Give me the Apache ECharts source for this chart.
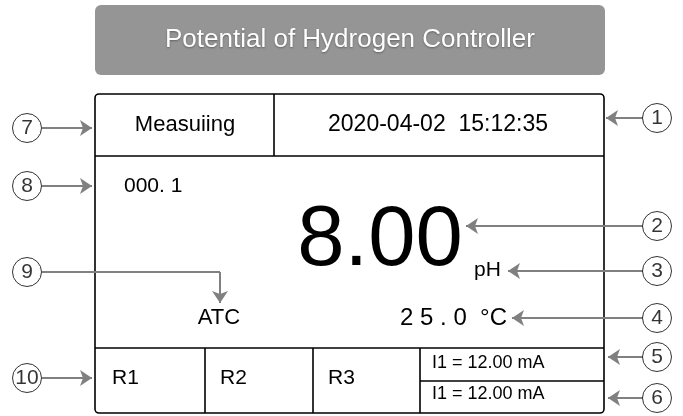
<!DOCTYPE html>
<html>
<head>
<meta charset="utf-8">
<script src="https://cdn.jsdelivr.net/npm/echarts@6/dist/echarts.min.js"></script>
<style>
  html, body { margin: 0; padding: 0; background: #fff; }
  #chart { width: 683px; height: 416px; }
</style>
</head>
<body>
<div id="chart"></div>
<script>
// callout numbers and where their arrows point
const calloutLabels = ['1', '2', '3', '4', '5', '6', '7', '8', '9', '10'];
const calloutX = [657, 657, 657, 657, 657, 657, 27, 27, 27, 27];
const calloutY = [118, 226, 271, 318, 357, 398, 128, 186, 272, 378];
const arrowPaths = [
  [[643, 118], [606, 118]],
  [[643, 226], [466, 226]],
  [[643, 271], [508, 271]],
  [[643, 318], [512, 318]],
  [[643, 357], [608, 357]],
  [[643, 398], [608, 398]],
  [[42, 128], [92, 128]],
  [[42, 186], [92, 186]],
  [[42, 272], [220, 272], [220, 303]],
  [[42, 378], [92, 378]]
];

// texts shown on the display panel
const panelTexts = ['Measuiing', '2020-04-02  15:12:35', '000. 1', '8.00', 'pH', 'ATC',
  '2 5 . 0  °C', 'R1', 'R2', 'R3', 'I1 = 12.00 mA', 'I1 = 12.00 mA'];
const textX = [185, 438, 124, 380, 474, 219, 507, 112, 220, 328, 432, 432];
const textY = [125, 125, 186, 242, 270, 318, 318, 378, 378, 378, 363, 394];
const textSize = [22, 23, 21, 85, 21, 22, 24, 21, 21, 21, 18, 18];
const textAlign = ['center', 'center', 'left', 'center', 'left', 'center', 'right',
  'left', 'left', 'left', 'left', 'left'];

const titleText = 'Potential of Hydrogen Controller';

// panel frame: outer box and divider lines
const frameBox = [95, 94, 604, 413];
const dividers = [
  [95, 156, 604, 156],
  [274, 94, 274, 156],
  [95, 348, 604, 348],
  [205, 348, 205, 413],
  [313, 348, 313, 413],
  [420, 348, 420, 413],
  [420, 381, 604, 381]
];

const FONT = '"Liberation Sans", Arial, Helvetica, sans-serif';

// lines series can't put symbols on polylines, so split each path:
// leading segments plain, last segment carries the arrow head
const plainSegs = [];
const arrowSegs = [];
arrowPaths.forEach((path) => {
  for (let k = 0; k < path.length - 1; k++) {
    const seg = { coords: [path[k], path[k + 1]] };
    if (k === path.length - 2) arrowSegs.push(seg);
    else plainSegs.push(seg);
  }
});

const chart = echarts.init(document.getElementById('chart'));

const option = {
  animation: false,
  backgroundColor: '#fff',
  grid: { left: 0, right: 0, top: 0, bottom: 0 },
  xAxis: { type: 'value', min: 0, max: 683, show: false },
  yAxis: { type: 'value', min: 0, max: 416, inverse: true, show: false },
  series: [
    {
      // title banner
      type: 'custom',
      data: [[95, 5, 605, 75]],
      renderItem: (params, api) => {
        const p0 = api.coord([api.value(0), api.value(1)]);
        const p1 = api.coord([api.value(2), api.value(3)]);
        return {
          type: 'group',
          children: [
            {
              type: 'rect',
              shape: { x: p0[0], y: p0[1], width: p1[0] - p0[0], height: p1[1] - p0[1], r: 6 },
              style: { fill: '#959595' }
            },
            {
              type: 'text',
              style: {
                text: titleText,
                x: (p0[0] + p1[0]) / 2,
                y: (p0[1] + p1[1]) / 2,
                align: 'center',
                verticalAlign: 'middle',
                font: `26px ${FONT}`,
                fill: '#fff',
                textShadowColor: 'rgba(0,0,0,0.35)',
                textShadowBlur: 2,
                textShadowOffsetY: 1
              }
            }
          ]
        };
      }
    },
    {
      // panel frame
      type: 'custom',
      data: [frameBox],
      renderItem: (params, api) => {
        const p0 = api.coord([api.value(0), api.value(1)]);
        const p1 = api.coord([api.value(2), api.value(3)]);
        const children = [{
          type: 'rect',
          shape: { x: p0[0], y: p0[1], width: p1[0] - p0[0], height: p1[1] - p0[1], r: 4 },
          style: { fill: 'none', stroke: '#000', lineWidth: 1.6 }
        }];
        dividers.forEach((d) => {
          const a = api.coord([d[0], d[1]]);
          const b = api.coord([d[2], d[3]]);
          children.push({
            type: 'line',
            shape: { x1: a[0], y1: a[1], x2: b[0], y2: b[1] },
            style: { stroke: '#000', lineWidth: 1.6 }
          });
        });
        return { type: 'group', children };
      }
    },
    {
      // panel texts
      type: 'custom',
      data: panelTexts.map((t, i) => [textX[i], textY[i], i]),
      renderItem: (params, api) => {
        const i = api.value(2);
        const p = api.coord([api.value(0), api.value(1)]);
        return {
          type: 'text',
          style: {
            text: panelTexts[i],
            x: p[0],
            y: p[1],
            align: textAlign[i],
            verticalAlign: 'middle',
            font: `${textSize[i]}px ${FONT}`,
            fill: '#000'
          }
        };
      }
    },
    {
      // callout lines (bend part, no head)
      type: 'lines',
      coordinateSystem: 'cartesian2d',
      symbol: 'none',
      lineStyle: { color: '#808080', width: 2, opacity: 1 },
      data: plainSegs
    },
    {
      // callout arrows
      type: 'lines',
      coordinateSystem: 'cartesian2d',
      symbol: ['none', 'arrow'],
      symbolSize: [9, 12],
      lineStyle: { color: '#808080', width: 2, opacity: 1 },
      data: arrowSegs
    },
    {
      // numbered circles
      type: 'scatter',
      symbol: 'circle',
      symbolSize: 29,
      itemStyle: { color: '#fff', borderColor: '#000', borderWidth: 1 },
      label: {
        show: true,
        position: 'inside',
        color: '#000',
        fontSize: 21,
        fontFamily: FONT,
        formatter: (p) => calloutLabels[p.dataIndex]
      },
      data: calloutX.map((x, i) => [x, calloutY[i]])
    }
  ]
};

chart.setOption(option);
</script>
</body>
</html>
